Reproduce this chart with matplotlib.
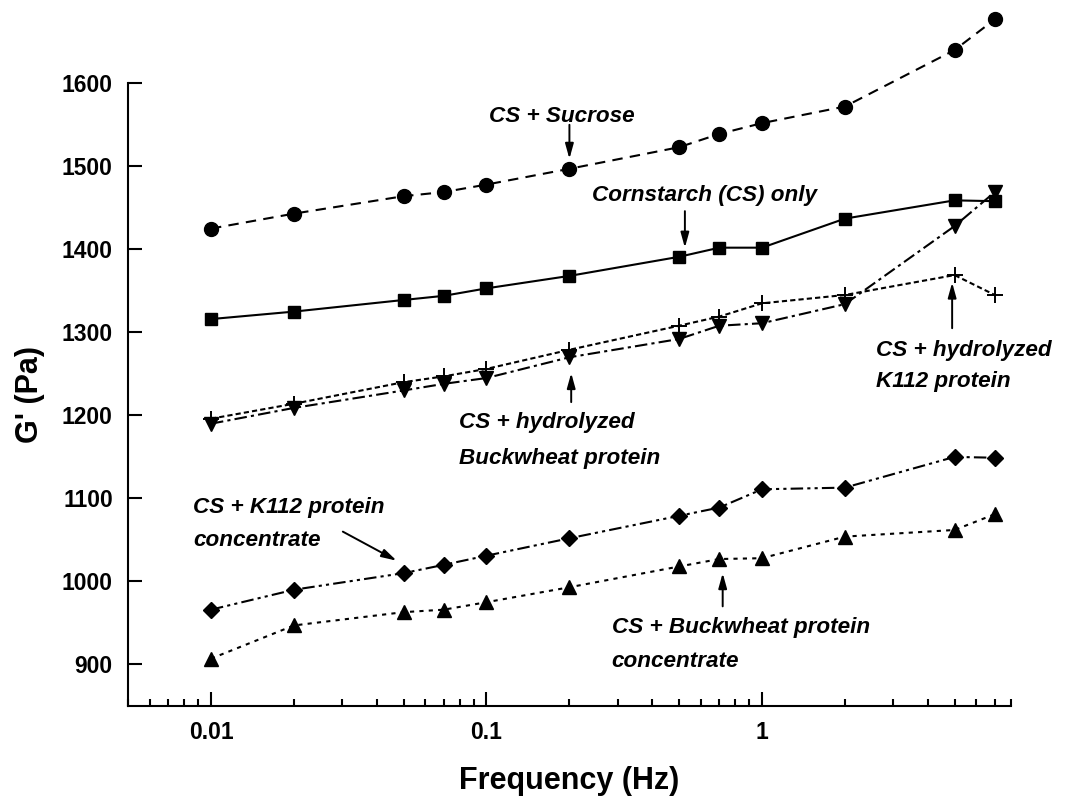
import matplotlib
matplotlib.use("Agg")
import matplotlib.pyplot as plt
from matplotlib.ticker import FixedLocator, FixedFormatter, LogLocator, NullFormatter

plt.rcParams['font.family'] = ['Liberation Sans', 'DejaVu Sans']

# frequency (Hz)
freq = [0.01, 0.02, 0.05, 0.07, 0.1, 0.2, 0.5, 0.7, 1, 2, 5, 7]

# G' (Pa)
cs_sucrose = [1425, 1443, 1464, 1469, 1478, 1497, 1523, 1539, 1552, 1572, 1640, 1677]
cs_only = [1316, 1325, 1339, 1344, 1353, 1368, 1391, 1402, 1402, 1437, 1459, 1458]
cs_hydro_buck = [1190, 1209, 1230, 1238, 1245, 1270, 1292, 1308, 1311, 1334, 1428, 1469]
cs_hydro_k112 = [1196, 1214, 1240, 1247, 1256, 1279, 1308, 1319, 1335, 1345, 1369, 1345]
cs_k112_conc = [966, 990, 1010, 1020, 1031, 1052, 1079, 1089, 1111, 1113, 1150, 1149]
cs_buck_conc = [907, 947, 963, 966, 975, 993, 1018, 1027, 1028, 1054, 1062, 1081]

fig = plt.figure(figsize=(10.76, 7.97), dpi=100)
ax = fig.add_axes([0.119, 0.1142, 0.8204, 0.7813])

lw = 1.5
ax.plot(freq, cs_sucrose, color='k', lw=lw, ls=(0, (5, 3.5)), marker='o', ms=10, clip_on=False)
ax.plot(freq, cs_only, color='k', lw=lw, ls='-', marker='s', ms=9, clip_on=False)
ax.plot(freq, cs_hydro_buck, color='k', lw=lw, ls=(0, (6, 2, 1.5, 2)), marker='v', ms=10, clip_on=False)
ax.plot(freq, cs_hydro_k112, color='k', lw=lw, ls=(0, (2.5, 1.5)), marker='+', ms=12, mew=1.4, clip_on=False)
ax.plot(freq, cs_k112_conc, color='k', lw=lw, ls=(0, (6, 2, 1.5, 2, 1.5, 2)), marker='D', ms=8, clip_on=False)
ax.plot(freq, cs_buck_conc, color='k', lw=lw, ls=(0, (2, 2.5)), marker='^', ms=10, clip_on=False)

ax.set_xscale('log')
ax.set_xlim(0.005, 8)
ax.set_ylim(850, 1600)

ax.xaxis.set_major_locator(FixedLocator([0.01, 0.1, 1]))
ax.xaxis.set_major_formatter(FixedFormatter(['0.01', '0.1', '1']))
ax.xaxis.set_minor_locator(LogLocator(base=10, subs=range(2, 10)))
ax.xaxis.set_minor_formatter(NullFormatter())
ax.set_yticks([900, 1000, 1100, 1200, 1300, 1400, 1500, 1600])
ax.yaxis.set_minor_locator(FixedLocator([]))

ax.tick_params(which='major', direction='in', length=10, width=1.5, labelsize=16.5, pad=11)
ax.tick_params(which='minor', direction='in', length=5, width=1.5)
for lab in ax.get_xticklabels() + ax.get_yticklabels():
    lab.set_fontweight('bold')

for side in ['top', 'right']:
    ax.spines[side].set_visible(False)
for side in ['left', 'bottom']:
    ax.spines[side].set_linewidth(1.5)

ax.set_xlabel('Frequency (Hz)', fontsize=22, fontweight='bold', labelpad=16)
ax.set_ylabel("G' (Pa)", fontsize=22, fontweight='bold', labelpad=12)

tstyle = dict(fontsize=16.2, fontweight='bold', fontstyle='italic', color='k')
arrow = dict(arrowstyle='-|>,head_length=0.9,head_width=0.25', color='k', lw=1.4,
             shrinkA=0, shrinkB=0)

# CS + Sucrose
ax.text(0.188, 1553, 'CS + Sucrose', ha='center', va='baseline', **tstyle)
ax.annotate('', xy=(0.2, 1509), xytext=(0.2, 1550), arrowprops=arrow)

# Cornstarch only
ax.text(0.62, 1458, 'Cornstarch (CS) only', ha='center', va='baseline', **tstyle)
ax.annotate('', xy=(0.525, 1402), xytext=(0.525, 1446), arrowprops=arrow)

# hydrolyzed buckwheat
ax.text(0.0794, 1185, 'CS + hydrolyzed', ha='left', va='baseline', **tstyle)
ax.text(0.0794, 1142, 'Buckwheat protein', ha='left', va='baseline', **tstyle)
ax.annotate('', xy=(0.203, 1251), xytext=(0.203, 1216), arrowprops=arrow)

# hydrolyzed K112
ax.text(2.59, 1272, 'CS + hydrolyzed', ha='left', va='baseline', **tstyle)
ax.text(2.59, 1234, 'K112 protein', ha='left', va='baseline', **tstyle)
ax.annotate('', xy=(4.9, 1360), xytext=(4.9, 1305), arrowprops=arrow)

# K112 concentrate
ax.text(0.0086, 1083, 'CS + K112 protein', ha='left', va='baseline', **tstyle)
ax.text(0.0086, 1043, 'concentrate', ha='left', va='baseline', **tstyle)
ax.annotate('', xy=(0.0472, 1025), xytext=(0.0301, 1060), arrowprops=arrow)

# Buckwheat concentrate
ax.text(0.285, 938, 'CS + Buckwheat protein', ha='left', va='baseline', **tstyle)
ax.text(0.285, 897, 'concentrate', ha='left', va='baseline', **tstyle)
ax.annotate('', xy=(0.72, 1010), xytext=(0.72, 970), arrowprops=arrow)

fig.savefig('out.png', dpi=100)
